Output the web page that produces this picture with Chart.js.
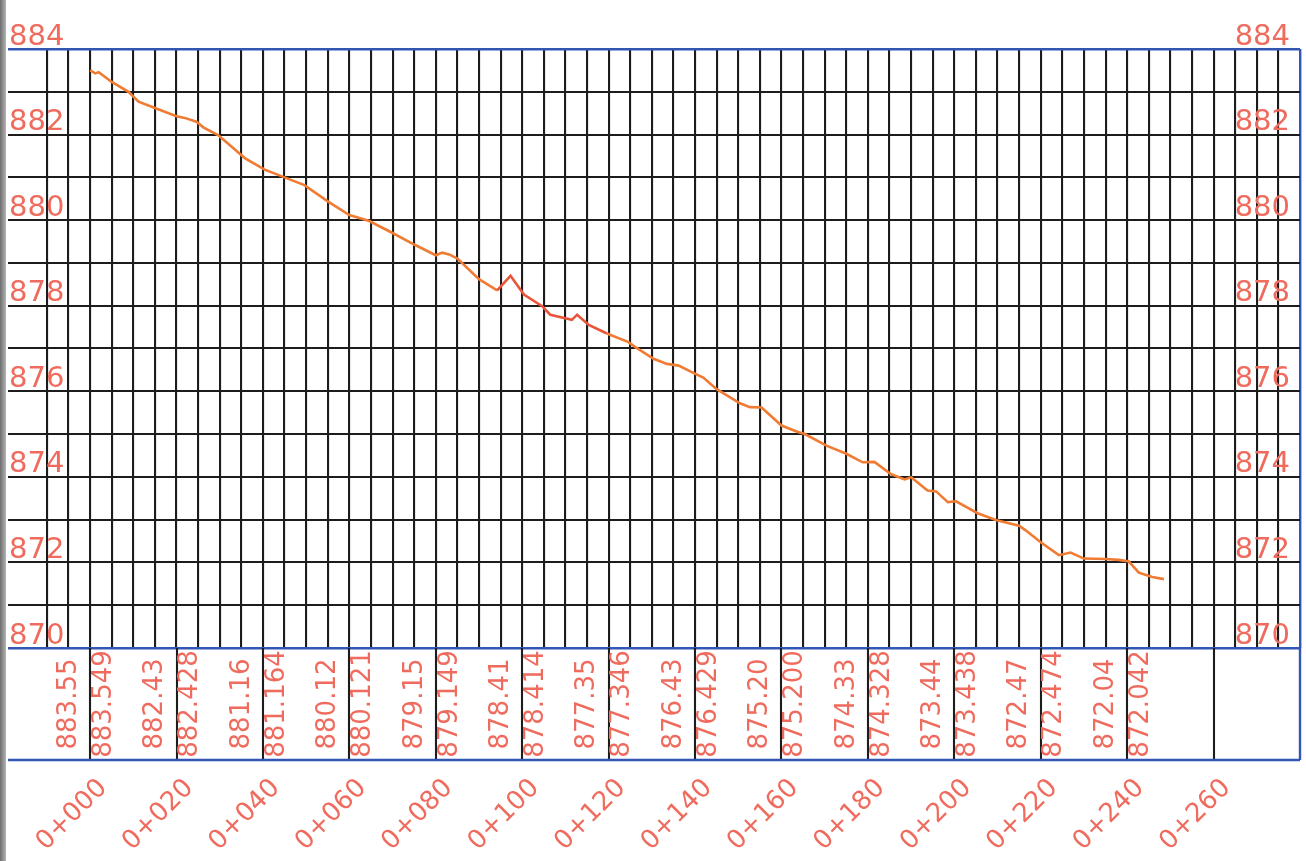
<!DOCTYPE html>
<html>
<head>
<meta charset="utf-8">
<script src="https://cdn.jsdelivr.net/npm/chart.js@4.4.0/dist/chart.umd.min.js"></script>
<style>
    html, body { margin: 0; padding: 0; background: #fff; }
    #wrap { position: relative; width: 1306px; height: 861px; overflow: hidden; }
    #borda { position: absolute; left: 0; top: 0; width: 6px; height: 861px; background: linear-gradient(to right, #6e6e6e, #b4b4b4); }
</style>
</head>
<body>
<div id="wrap">
    <canvas id="graficoPerfil" width="1306" height="861"></canvas>
    <div id="borda"></div>
</div>
<script>
// perfil do terreno (estaca em m, cota em m)
const estacas = [0, 1.2, 2, 5, 8.9, 11.2, 15, 20, 21.9, 24.6, 26.2, 29.6, 32.7, 35.8, 40.4, 45, 49.6, 55, 60, 64.6,
    70, 75, 80, 81.5, 83.1, 85, 90, 94.2, 97.3, 100.4, 104.6, 106.5, 111.5, 112.7, 115.4, 119.6, 124.6, 126.2, 130.4, 133.5,
    136.2, 139.6, 141.9, 145, 150.4, 152.7, 155.4, 160, 163.8, 165.4, 170.4, 175, 178.8, 181.5, 185.4, 188.5, 190, 193.8, 195.8, 198.5,
    200.4, 205.4, 209.6, 215, 216.5, 220, 224.2, 226.9, 230, 235, 238.1, 240.4, 242.7, 245.8, 248.5];
const cotas = [883.50, 883.43, 883.46, 883.23, 883.00, 882.77, 882.62, 882.43, 882.39, 882.30, 882.17, 881.99, 881.72, 881.45, 881.18, 881.00, 880.82, 880.44, 880.12, 879.98,
    879.70, 879.43, 879.18, 879.24, 879.20, 879.10, 878.62, 878.36, 878.70, 878.26, 877.99, 877.79, 877.67, 877.79, 877.55, 877.35, 877.15, 877.03, 876.76, 876.64,
    876.60, 876.43, 876.32, 876.05, 875.72, 875.63, 875.62, 875.20, 875.05, 875.00, 874.73, 874.54, 874.34, 874.35, 874.06, 873.94, 873.99, 873.68, 873.66, 873.41,
    873.43, 873.15, 872.99, 872.86, 872.75, 872.47, 872.17, 872.23, 872.09, 872.08, 872.06, 872.02, 871.76, 871.66, 871.61];

// tabela abaixo do grafico
const estacasTabela = [0, 20, 40, 60, 80, 100, 120, 140, 160, 180, 200, 220, 240];
const cotaEsquerda = ['883.55', '882.43', '881.16', '880.12', '879.15', '878.41', '877.35', '876.43', '875.20', '874.33', '873.44', '872.47', '872.04'];
const cotaDireita = ['883.549', '882.428', '881.164', '880.121', '879.149', '878.414', '877.346', '876.429', '875.200', '874.328', '873.438', '872.474', '872.042'];
const estacasRotulo = [0, 20, 40, 60, 80, 100, 120, 140, 160, 180, 200, 220, 240, 260];
const rotulosEstaca = ['0+000', '0+020', '0+040', '0+060', '0+080', '0+100', '0+120', '0+140', '0+160', '0+180', '0+200', '0+220', '0+240', '0+260'];

const corTexto = '#ef6b5e';
const azul = '#3156b4';
const preto = '#1c1c1c';
const X_MIN = -19, X_MAX = 280, Y_MIN = 870, Y_MAX = 884;

const tabelaPlugin = {
    id: 'tabela',
    afterDraw(chart) {
        const { ctx, chartArea } = chart;
        const x = chart.scales.x;
        const topo = chartArea.bottom;
        const base = topo + 112;
        const meio = (topo + base) / 2;

        ctx.save();
        ctx.lineCap = 'butt';
        ctx.strokeStyle = preto;
        ctx.lineWidth = 2.1;
        estacasRotulo.forEach(e => {
            const px = Math.round(x.getPixelForValue(e));
            ctx.beginPath();
            ctx.moveTo(px, topo);
            ctx.lineTo(px, base);
            ctx.stroke();
        });

        ctx.strokeStyle = azul;
        ctx.lineWidth = 2.4;
        ctx.beginPath();
        ctx.moveTo(chartArea.left, base);
        ctx.lineTo(chartArea.right, base);
        ctx.moveTo(chartArea.right, topo);
        ctx.lineTo(chartArea.right, base);
        ctx.stroke();

        ctx.fillStyle = corTexto;
        ctx.font = '26px "DejaVu Sans"';
        ctx.textAlign = 'center';
        ctx.textBaseline = 'middle';
        estacasTabela.forEach((e, i) => {
            const px = x.getPixelForValue(e);
            [[px - 21, cotaEsquerda[i]], [px + 14, cotaDireita[i]]].forEach(([tx, txt]) => {
                ctx.save();
                ctx.translate(tx, meio);
                ctx.rotate(-Math.PI / 2);
                ctx.fillText(txt, 0, 0);
                ctx.restore();
            });
        });

        ctx.textAlign = 'right';
        estacasRotulo.forEach((e, i) => {
            const px = x.getPixelForValue(e);
            ctx.save();
            ctx.translate(px + 13, base + 24);
            ctx.rotate(-Math.PI / 4);
            ctx.fillText(rotulosEstaca[i], 0, 0);
            ctx.restore();
        });
        ctx.restore();
    }
};

const eixoY = (posicao) => ({
    type: 'linear',
    position: posicao,
    min: Y_MIN,
    max: Y_MAX,
    border: { display: false },
    afterFit: escala => { escala.width = 0; },
    grid: {
        display: posicao === 'left',
        drawTicks: false,
        color: c => (c.tick && (c.tick.value === Y_MIN || c.tick.value === Y_MAX)) ? azul : preto,
        lineWidth: c => (c.tick && (c.tick.value === Y_MIN || c.tick.value === Y_MAX)) ? 2.4 : 2.1
    },
    ticks: {
        stepSize: 1,
        autoSkip: false,
        mirror: true,
        padding: posicao === 'left' ? 1 : -10,
        labelOffset: -12,
        color: corTexto,
        font: { family: 'DejaVu Sans', size: 29 },
        callback: v => v % 2 === 0 ? String(v) : ''
    }
});

const ctx = document.getElementById('graficoPerfil').getContext('2d');
const chart = new Chart(ctx, {
    type: 'line',
    data: {
        datasets: [{
            data: estacas.map((e, i) => ({ x: e, y: cotas[i] })),
            borderColor: '#f07b32',
            borderWidth: 2.6,
            pointRadius: 0,
            tension: 0,
            segment: {
                borderColor: c => (c.p0.parsed.x >= 94 && c.p0.parsed.x < 118) ? '#e9553a' : '#f07b32'
            }
        }]
    },
    options: {
        responsive: false,
        animation: false,
        devicePixelRatio: 1,
        layout: { padding: { left: 8, right: 6, top: 49, bottom: 213 } },
        plugins: { legend: { display: false }, tooltip: { enabled: false } },
        scales: {
            x: {
                type: 'linear',
                min: X_MIN,
                max: X_MAX,
                border: { display: false },
                grid: {
                    drawTicks: false,
                    color: c => !c.tick ? preto : (c.tick.value === X_MAX ? azul : (c.tick.value === X_MIN ? 'rgba(0,0,0,0)' : preto)),
                    lineWidth: c => (c.tick && c.tick.value === X_MAX) ? 2.4 : 2.1
                },
                ticks: { display: false, stepSize: 5 }
            },
            y: eixoY('left'),
            y2: eixoY('right')
        }
    },
    plugins: [tabelaPlugin]
});
</script>
</body>
</html>
